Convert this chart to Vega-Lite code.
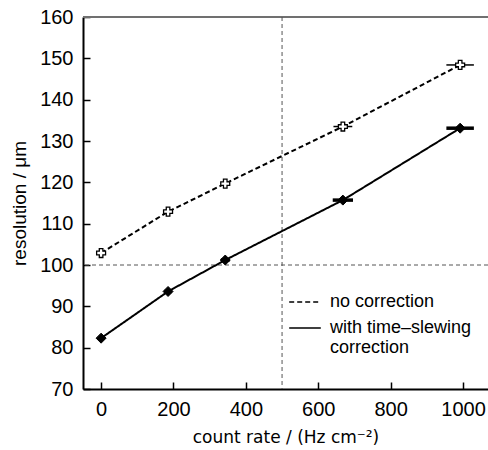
{
  "$schema": "https://vega.github.io/schema/vega-lite/v6.json",
  "width": 405,
  "height": 372,
  "autosize": "none",
  "padding": {"left": 83, "top": 17, "right": 0, "bottom": 61},
  "config": {
    "view": {"stroke": null},
    "font": "Liberation Sans",
    "axis": {
      "grid": false,
      "domainColor": "black",
      "domainWidth": 2,
      "tickColor": "black",
      "tickWidth": 1.5,
      "tickSize": -7,
      "labelPadding": 17,
      "labelFontSize": 20,
      "labelColor": "black",
      "titleFontWeight": "normal",
      "titleColor": "black"
    }
  },
  "datasets": {
    "meas": [
      {"rate": 0, "res": 102.9, "err": 5, "series": "no correction"},
      {"rate": 185, "res": 112.9, "err": 10, "series": "no correction"},
      {"rate": 343, "res": 119.7, "err": 12, "series": "no correction"},
      {"rate": 668, "res": 133.5, "err": 26, "series": "no correction"},
      {"rate": 992, "res": 148.4, "err": 38, "series": "no correction"},
      {"rate": 0, "res": 82.3, "err": 5, "series": "with time–slewing correction"},
      {"rate": 185, "res": 93.6, "err": 10, "series": "with time–slewing correction"},
      {"rate": 343, "res": 101.2, "err": 12, "series": "with time–slewing correction"},
      {"rate": 668, "res": 115.7, "err": 28, "series": "with time–slewing correction"},
      {"rate": 992, "res": 133.1, "err": 38, "series": "with time–slewing correction"}
    ]
  },
  "layer": [
    {
      "data": {"values": [{"v": 160}]},
      "mark": {"type": "rule", "color": "#707070", "strokeWidth": 2},
      "encoding": {
        "y": {"field": "v", "type": "quantitative", "scale": {"domain": [70, 160], "nice": false}}
      }
    },
    {
      "data": {"values": [{"v": 100}]},
      "mark": {"type": "rule", "color": "#555555", "strokeWidth": 1, "strokeDash": [4, 3]},
      "encoding": {
        "y": {"field": "v", "type": "quantitative", "scale": {"domain": [70, 160], "nice": false}}
      }
    },
    {
      "data": {"values": [{"v": 500}]},
      "mark": {"type": "rule", "color": "#555555", "strokeWidth": 1, "strokeDash": [4, 3]},
      "encoding": {
        "x": {"field": "v", "type": "quantitative", "scale": {"domain": [-50, 1069], "nice": false, "zero": false}}
      }
    },
    {
      "data": {"name": "meas"},
      "mark": {"type": "line", "color": "black", "strokeWidth": 2},
      "encoding": {
        "x": {
          "field": "rate", "type": "quantitative",
          "scale": {"domain": [-50, 1069], "nice": false, "zero": false},
          "axis": {
            "values": [0, 200, 400, 600, 800, 1000],
            "format": "d",
            "title": "count rate / (Hz cm⁻²)",
            "titleFont": "DejaVu Sans",
            "titleFontSize": 17,
            "titlePadding": 10
          }
        },
        "y": {
          "field": "res", "type": "quantitative",
          "scale": {"domain": [70, 160], "nice": false, "zero": false},
          "axis": {
            "values": [70, 80, 90, 100, 110, 120, 130, 140, 150, 160],
            "title": "resolution / μm",
            "titleFontSize": 19,
            "titlePadding": 10
          }
        },
        "strokeDash": {
          "field": "series", "type": "nominal",
          "scale": {"domain": ["no correction", "with time–slewing correction"], "range": [[5, 3], [1, 0]]},
          "legend": {
            "orient": "none",
            "legendX": 205,
            "legendY": 268,
            "title": null,
            "symbolType": "stroke",
            "symbolSize": 1000,
            "symbolStrokeWidth": 1.5,
            "symbolStrokeColor": "black",
            "labelFontSize": 18,
            "labelColor": "black",
            "labelLimit": 0,
            "labelOffset": 8,
            "rowPadding": -20,
            "labelExpr": "datum.label == 'with time–slewing correction' ? ['with time–slewing', 'correction'] : datum.label"
          }
        }
      }
    },
    {
      "data": {"name": "meas"},
      "transform": [
        {"filter": "datum.series == 'no correction'"},
        {"calculate": "datum.rate - datum.err", "as": "lo"},
        {"calculate": "datum.rate + datum.err", "as": "hi"}
      ],
      "mark": {"type": "rule", "color": "black", "strokeWidth": 1.5},
      "encoding": {
        "x": {"field": "lo", "type": "quantitative", "scale": {"domain": [-50, 1069], "nice": false, "zero": false}},
        "x2": {"field": "hi"},
        "y": {"field": "res", "type": "quantitative", "scale": {"domain": [70, 160], "nice": false, "zero": false}}
      }
    },
    {
      "data": {"name": "meas"},
      "transform": [
        {"filter": "datum.series != 'no correction'"},
        {"calculate": "datum.rate - datum.err", "as": "lo"},
        {"calculate": "datum.rate + datum.err", "as": "hi"}
      ],
      "mark": {"type": "rule", "color": "black", "strokeWidth": 3.5},
      "encoding": {
        "x": {"field": "lo", "type": "quantitative", "scale": {"domain": [-50, 1069], "nice": false, "zero": false}},
        "x2": {"field": "hi"},
        "y": {"field": "res", "type": "quantitative", "scale": {"domain": [70, 160], "nice": false, "zero": false}}
      }
    },
    {
      "data": {"name": "meas"},
      "transform": [{"filter": "datum.series == 'no correction'"}],
      "mark": {"type": "point", "shape": "cross", "filled": true, "fill": "white", "stroke": "black", "strokeWidth": 1.3, "opacity": 1, "size": 80},
      "encoding": {
        "x": {"field": "rate", "type": "quantitative", "scale": {"domain": [-50, 1069], "nice": false, "zero": false}},
        "y": {"field": "res", "type": "quantitative", "scale": {"domain": [70, 160], "nice": false, "zero": false}}
      }
    },
    {
      "data": {"name": "meas"},
      "transform": [{"filter": "datum.series != 'no correction'"}],
      "mark": {"type": "point", "shape": "diamond", "filled": true, "fill": "black", "stroke": "black", "strokeWidth": 1, "opacity": 1, "size": 100},
      "encoding": {
        "x": {"field": "rate", "type": "quantitative", "scale": {"domain": [-50, 1069], "nice": false, "zero": false}},
        "y": {"field": "res", "type": "quantitative", "scale": {"domain": [70, 160], "nice": false, "zero": false}}
      }
    }
  ]
}
